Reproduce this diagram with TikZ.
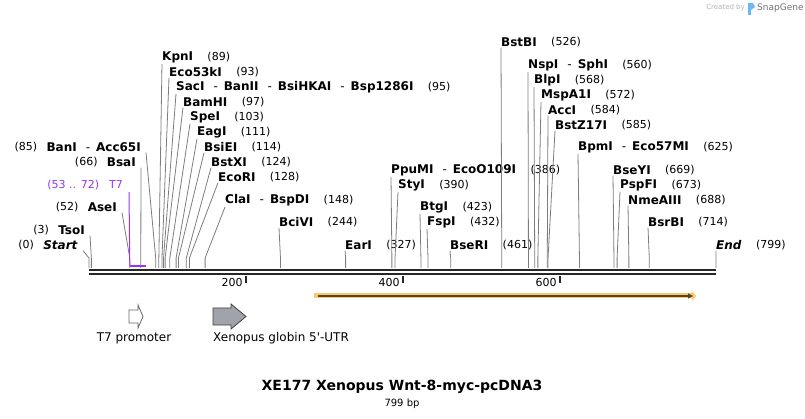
\documentclass[tikz,border=0pt]{standalone}
\usepackage{fontspec}
\setmainfont{DejaVu Sans}
\usetikzlibrary{calc,positioning,arrows.meta}
\definecolor{cutgray}{RGB}{125,125,125}
\definecolor{t7violet}{RGB}{153,51,255}
\definecolor{orfgold}{RGB}{250,200,110}
\definecolor{orfdark}{RGB}{85,68,40}
\definecolor{utrgray}{RGB}{160,164,170}
\definecolor{logoblue}{RGB}{110,185,240}
\tikzset{
  enz/.style={font=\fontsize{12}{14}\selectfont\bfseries, inner sep=0pt, anchor=west},
  enz-pos/.style={font=\fontsize{11}{13}\selectfont, inner sep=0pt, anchor=west},
  cut/.style={draw=cutgray, line width=0.8pt},
  backbone/.style={line width=2.3pt, draw=black!85},
  tick/.style={line width=2pt, draw=black!85},
  tick-label/.style={font=\fontsize{11}{13}\selectfont, anchor=east, inner sep=0pt},
  feat-label/.style={font=\fontsize{12}{14}\selectfont, inner sep=0pt}
}
\newcommand{\alsocut}{\hspace{9pt}\textmd{-}\hspace{6pt}}
% site label on the right of its line
\newcommand{\siteR}[5]{
  \node[enz] (#1) at (#3,#4) {#5};
  \node[enz-pos, right=14pt of #1] (#1-bp) {(#2)};
  \coordinate (#1-cut) at ({89+#2*0.7847},268);
  \draw[cut] ([yshift=-1pt]#1.south west) -- ([yshift=10pt]#1-cut) -- (#1-cut);
}
% site label on the left of its line
\newcommand{\siteL}[5]{
  \node[enz, anchor=east] (#1) at (#3,#4) {#5};
  \node[enz-pos, left=9pt of #1] (#1-bp) {(#2)};
  \coordinate (#1-cut) at ({89+#2*0.7847},268);
  \draw[cut] ([xshift=5pt,yshift=-1pt]#1.south east) -- ([yshift=10pt]#1-cut) -- (#1-cut);
}

\begin{document}
\begin{tikzpicture}[x=1pt, y=-1pt]
  \useasboundingbox (0,0) rectangle (805,419);
  % sequence
  \coordinate (seq-start) at (89,270);
  \coordinate (seq-end) at (716,270);
  \draw[backbone] (seq-start) -- (seq-end);
  \draw[backbone] ([yshift=-4pt]seq-start) -- ([yshift=-4pt]seq-end);
  \foreach \t in {200,400,600} {
    \coordinate (tick\t) at ({89+\t*0.7847},276);
    \draw[tick] (tick\t) -- ++(0,7);
    \node[tick-label] (tick\t-lab) at ([xshift=-3pt,yshift=-6pt]tick\t) {\t};
  }
  % sites, left labels
  \siteL{start}{0}{78}{245}{\textit{Start}}
  \siteL{tso}{3}{85}{230}{TsoI}
  \siteL{ase}{52}{117}{207}{AseI}
  \siteL{bsa}{66}{136}{162}{BsaI}
  \siteL{ban}{85}{141}{147}{BanI\alsocut Acc65I}
  % T7 promoter
  \node[enz-pos, anchor=east, text=t7violet] (t7) at (123,185) {(53 .. 72)\hspace{10pt}T7};
  \coordinate (t7-a) at ({89+52*0.7847},266);
  \coordinate (t7-b) at ({89+72*0.7847},266);
  \draw[t7violet, line width=1pt] ([xshift=6pt,yshift=-2pt]t7.south east) -- (t7-a);
  \draw[t7violet, line width=2pt] (t7-a) -- (t7-b);
  % sites, right labels
  \siteR{kpn}{89}{162}{57}{KpnI}
  \siteR{eco53k}{93}{169}{72}{Eco53kI}
  \siteR{sac}{95}{176}{87}{SacI\alsocut BanII\alsocut BsiHKAI\alsocut Bsp1286I}
  \siteR{bamh}{97}{183}{102}{BamHI}
  \siteR{spe}{103}{190}{117}{SpeI}
  \siteR{eag}{111}{197}{132}{EagI}
  \siteR{bsie}{114}{204}{147}{BsiEI}
  \siteR{bstx}{124}{211}{162}{BstXI}
  \siteR{ecor}{128}{218}{177}{EcoRI}
  \siteR{cla}{148}{225}{200}{ClaI\alsocut BspDI}
  \siteR{bcivi}{244}{279}{222}{BciVI}
  \siteR{ear}{327}{345}{245}{EarI}
  \siteR{ppum}{386}{391}{170}{PpuMI\alsocut EcoO109I}
  \siteR{sty}{390}{398}{185}{StyI}
  \siteR{btg}{423}{420}{207}{BtgI}
  \siteR{fsp}{432}{427}{222}{FspI}
  \siteR{bser}{461}{450}{245}{BseRI}
  \siteR{bstb}{526}{501}{42}{BstBI}
  \siteR{nsp}{560}{528}{65}{NspI\alsocut SphI}
  \siteR{blp}{568}{534}{80}{BlpI}
  \siteR{mspa}{572}{541}{95}{MspA1I}
  \siteR{acc}{584}{548}{110}{AccI}
  \siteR{bstz}{585}{555}{125}{BstZ17I}
  \siteR{bpm}{625}{578}{147}{BpmI\alsocut Eco57MI}
  \siteR{bsey}{669}{613}{170}{BseYI}
  \siteR{pspf}{673}{620}{185}{PspFI}
  \siteR{nme}{688}{628}{200}{NmeAIII}
  \siteR{bsrb}{714}{648}{222}{BsrBI}
  \siteR{end}{799}{716}{245}{\textit{End}}
  % open reading frame
  \coordinate (orf-a) at (314,296);
  \coordinate (orf-b) at (696,296);
  \draw[orfgold, line width=5pt, -{Triangle[length=4pt,width=10pt]}] (orf-a) -- (orf-b);
  \draw[orfdark, line width=1.6pt, -{Triangle[length=5pt,width=5pt]}] ([xshift=4pt]orf-a) -- ([xshift=-3pt]orf-b);
  % features
  \draw[draw=black!60, fill=white, line width=0.8pt] (129,310) -- (138,310) -- (138,305) -- (143,316.5)
    -- (138,328) -- (138,323) -- (129,323) -- cycle;
  \draw[draw=black!75, fill=utrgray, line width=0.8pt] (213,308) -- (231,308) -- (231,304) -- (246,316.5)
    -- (231,329) -- (231,325) -- (213,325) -- cycle;
  \node[feat-label] (t7-lab) at (134,338) {T7 promoter};
  \node[feat-label, anchor=west] (utr-lab) at (213,338) {Xenopus globin 5\textquotesingle-UTR};
  % title
  \node[font=\fontsize{14}{16}\selectfont\bfseries] (title) at (402,387) {XE177 Xenopus Wnt-8-myc-pcDNA3};
  \node[font=\fontsize{10}{12}\selectfont] (length) at (402,404) {799 bp};
  % watermark
  \node[font=\fontsize{7}{8}\selectfont, text=black!30, anchor=east, inner sep=0pt] (made) at (745,8) {Created by};
  \fill[logoblue] (748,3) -- (753,3) -- (755,7) -- (751,10) -- (751,15) -- (748,15) -- cycle;
  \node[font=\fontsize{9}{10}\selectfont, text=black!55, anchor=west, inner sep=0pt] (snap) at (757,8) {SnapGene};
\end{tikzpicture}
\end{document}
